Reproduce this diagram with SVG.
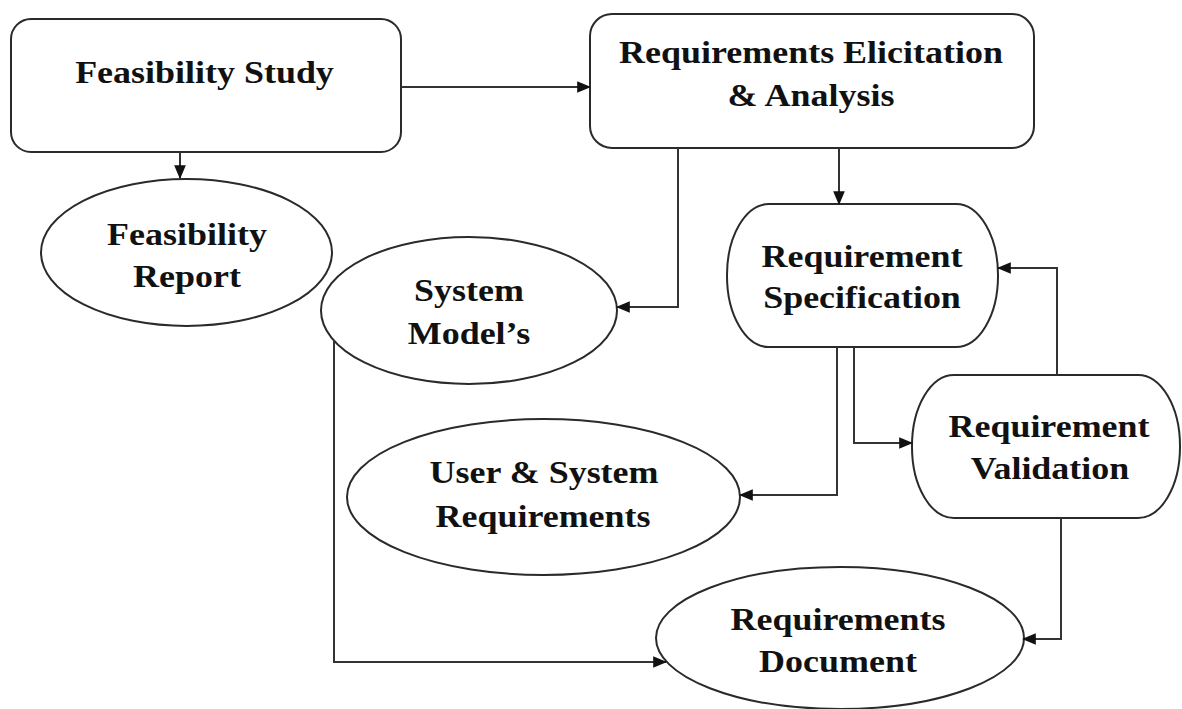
<svg xmlns="http://www.w3.org/2000/svg" width="1182" height="709" viewBox="0 0 1182 709">
<defs>
<style>
.shape{fill:#ffffff;stroke:#2a2a2a;stroke-width:2}
.lbl{font-family:"Liberation Serif","Times New Roman",serif;font-weight:bold;font-size:31px;fill:#111;text-anchor:middle}
.conn{fill:none;stroke:#333;stroke-width:2}
</style>
<marker id="arr" markerUnits="userSpaceOnUse" markerWidth="14" markerHeight="14" viewBox="0 0 12 12" refX="11" refY="6" orient="auto">
<path d="M0,1 L12,6 L0,11 Z" fill="#111"/>
</marker>
</defs>
<rect width="1182" height="709" fill="#ffffff"/>
<g id="feasibility-study">
<rect class="shape" x="11" y="19" width="390" height="133" rx="20" ry="20"/>
<text class="lbl" transform="translate(204.5,83) scale(1.16,1)">Feasibility Study</text>
</g>
<g id="requirements-elicitation">
<rect class="shape" x="590" y="14" width="444" height="134" rx="22" ry="22"/>
<text class="lbl" transform="translate(811,63) scale(1.16,1)">Requirements Elicitation</text>
<text class="lbl" transform="translate(811,106) scale(1.16,1)">&amp; Analysis</text>
</g>
<g id="feasibility-report">
<ellipse class="shape" cx="186.5" cy="252.5" rx="145.5" ry="73.5"/>
<text class="lbl" transform="translate(187,245) scale(1.16,1)">Feasibility</text>
<text class="lbl" transform="translate(187,287) scale(1.16,1)">Report</text>
</g>
<g id="system-models">
<ellipse class="shape" cx="469" cy="310.5" rx="148" ry="73.5"/>
<text class="lbl" transform="translate(469,301) scale(1.16,1)">System</text>
<text class="lbl" transform="translate(469,344) scale(1.16,1)">Model’s</text>
</g>
<g id="requirement-specification">
<rect class="shape" x="727" y="204" width="271" height="143" rx="42" ry="71"/>
<text class="lbl" transform="translate(862,267) scale(1.16,1)">Requirement</text>
<text class="lbl" transform="translate(862,308) scale(1.16,1)">Specification</text>
</g>
<g id="requirement-validation">
<rect class="shape" x="912" y="375" width="268" height="143" rx="42" ry="71"/>
<text class="lbl" transform="translate(1049,437) scale(1.16,1)">Requirement</text>
<text class="lbl" transform="translate(1050,479) scale(1.16,1)">Validation</text>
</g>
<g id="user-system-requirements">
<ellipse class="shape" cx="543.5" cy="497" rx="196.5" ry="78"/>
<text class="lbl" transform="translate(544,483) scale(1.16,1)">User &amp; System</text>
<text class="lbl" transform="translate(543,527) scale(1.16,1)">Requirements</text>
</g>
<g id="requirements-document">
<ellipse class="shape" cx="840" cy="638" rx="184" ry="71"/>
<text class="lbl" transform="translate(838,630) scale(1.16,1)">Requirements</text>
<text class="lbl" transform="translate(838,672) scale(1.16,1)">Document</text>
</g>
<g id="connectors">
<path class="conn" d="M401,87 H590" marker-end="url(#arr)"/>
<path class="conn" d="M180,152 V178" marker-end="url(#arr)"/>
<path class="conn" d="M678,148 V307 H617" marker-end="url(#arr)"/>
<path class="conn" d="M839,148 V204" marker-end="url(#arr)"/>
<path class="conn" d="M837,347 V495 H740" marker-end="url(#arr)"/>
<path class="conn" d="M854,347 V443 H912" marker-end="url(#arr)"/>
<path class="conn" d="M1057,375 V268 H998" marker-end="url(#arr)"/>
<path class="conn" d="M1061,518 V639 H1023" marker-end="url(#arr)"/>
<path class="conn" d="M334,340 V662 H666" marker-end="url(#arr)"/>
</g>
</svg>
